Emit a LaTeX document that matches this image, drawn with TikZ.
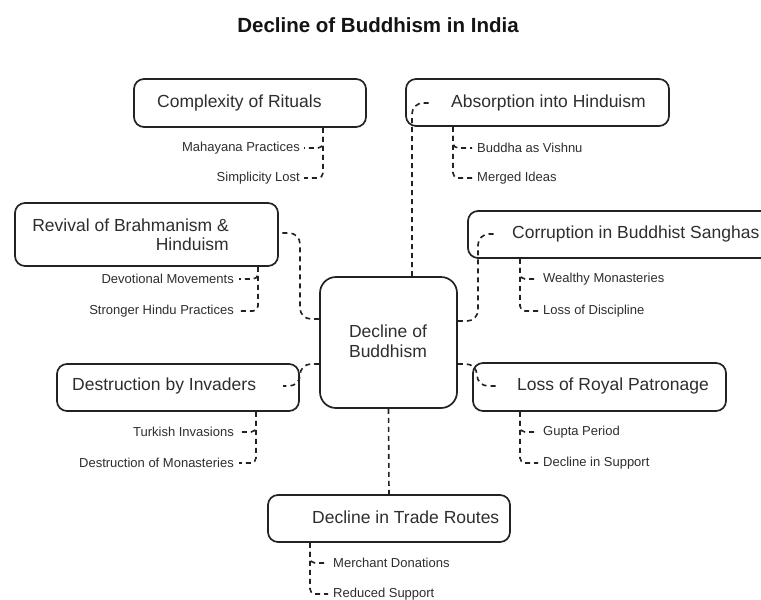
\documentclass[tikz,border=0pt]{standalone}
\usepackage{fontspec}
\setmainfont{Liberation Sans}
\usetikzlibrary{calc}
\definecolor{ink}{HTML}{222222}
\definecolor{txt}{HTML}{2E2E2E}
\tikzset{
  box/.style={draw=ink, line width=1.7pt, rounded corners=10pt, fill=white, inner sep=0pt},
  cbox/.style={draw=ink, line width=1.7pt, rounded corners=16pt, fill=white, inner sep=0pt},
  lbl/.style={text=txt, font=\fontsize{17.5}{21}\selectfont, inner sep=0pt},
  sub/.style={text=txt, font=\fontsize{13}{15}\selectfont, inner sep=0pt},
  conn/.style={draw=ink, line width=1.6pt, dash pattern=on 5pt off 4pt, rounded corners=11pt},
  subl/.style={draw=ink, line width=1.6pt, dash pattern=on 5pt off 4pt, rounded corners=5pt},
}
\begin{document}
\begin{tikzpicture}[x=1pt,y=-1pt]
\useasboundingbox (0,0) rectangle (761,600);
\clip (0,0) rectangle (761,600);
\fill[white] (0,0) rectangle (761,600);
% title
\node[font=\bfseries\fontsize{20.5}{24}\selectfont, text=black!92, inner sep=0pt] (title) at (378,25) {Decline of Buddhism in India};
% central box
\node[cbox, minimum width=137pt, minimum height=131pt] (cen) at (388.5,342.5) {};
\node[lbl, align=center, font=\fontsize{17.5}{20}\selectfont] (cent) at (388,341) {Decline of\\Buddhism};
% boxes
\node[box, minimum width=232pt, minimum height=48pt] (comp) at (250,103) {};
\node[lbl, anchor=west] (compt) at (157,103) {Complexity of Rituals};
\node[box, minimum width=263pt, minimum height=47pt] (abs) at (537.5,102.5) {};
\node[lbl, anchor=west] (abst) at (451,103) {Absorption into Hinduism};
\node[box, minimum width=263pt, minimum height=63pt] (rev) at (146.5,234.5) {};
\node[lbl, anchor=east, align=right, font=\fontsize{17.5}{19}\selectfont] (revt) at (229,235) {Revival of Brahmanism \&\\Hinduism};
\node[box, minimum width=310pt, minimum height=47pt] (corr) at (623,234.5) {};
\node[lbl, anchor=west] (corrt) at (512,234) {Corruption in Buddhist Sanghas};
\node[box, minimum width=242pt, minimum height=47pt] (dest) at (178,387.5) {};
\node[lbl, anchor=west] (destt) at (72,386) {Destruction by Invaders};
\node[box, minimum width=253pt, minimum height=48pt] (loss) at (599.5,387) {};
\node[lbl, anchor=west] (losst) at (517,386) {Loss of Royal Patronage};
\node[box, minimum width=242pt, minimum height=47pt] (trade) at (389,518.5) {};
\node[lbl, anchor=west] (tradet) at (312,517) {Decline in Trade Routes};
% main connectors
\coordinate (absin) at (430,103);
\coordinate (corrin) at (497,234);
\coordinate (lossin) at (497,386);
\coordinate (destin) at (283,386);
\draw[conn] (cen.north -| 412,0) -- (412,103) -- (absin);
\draw[conn] (cen.west |- 0,319) -- (300,319) -- (300,233) -- (rev.east |- 0,233);
\draw[conn] (cen.west |- 0,364) -- (300,364) -- (300,386) -- (destin);
\draw[conn] (cen.east |- 0,321) -- (478,321) -- (478,234) -- (corrin);
\draw[conn] (cen.east |- 0,364) -- (477,364) -- (477,386) -- (lossin);
\draw[conn] (cen.south) -- (trade.north);
% sub items: complexity
\node[sub, anchor=east] (c1) at (300,148) {Mahayana Practices};
\node[sub, anchor=east] (c2) at (300,178) {Simplicity Lost};
\draw[subl] (comp.south -| 323,0) -- (323,148) -- ([xshift=4pt]c1.east);
\draw[subl] (comp.south -| 323,0) -- (323,178) -- ([xshift=4pt]c2.east);
% absorption
\node[sub, anchor=west] (a1) at (477,148) {Buddha as Vishnu};
\node[sub, anchor=west] (a2) at (477,178) {Merged Ideas};
\draw[subl] (abs.south -| 453,0) -- (453,148) -- ([xshift=-5pt]a1.west);
\draw[subl] (abs.south -| 453,0) -- (453,178) -- ([xshift=-5pt]a2.west);
% revival
\node[sub, anchor=east] (r1) at (234,279) {Devotional Movements};
\node[sub, anchor=east] (r2) at (234,311) {Stronger Hindu Practices};
\draw[subl] (rev.south -| 258,0) -- (258,279) -- ([xshift=5pt]r1.east);
\draw[subl] (rev.south -| 258,0) -- (258,311) -- ([xshift=5pt]r2.east);
% corruption
\node[sub, anchor=west] (k1) at (543,279) {Wealthy Monasteries};
\node[sub, anchor=west] (k2) at (543,311) {Loss of Discipline};
\draw[subl] (corr.south -| 520,0) -- (520,279) -- ([xshift=-5pt]k1.west);
\draw[subl] (corr.south -| 520,0) -- (520,311) -- ([xshift=-5pt]k2.west);
% destruction
\node[sub, anchor=east] (d1) at (234,432) {Turkish Invasions};
\node[sub, anchor=east] (d2) at (234,463) {Destruction of Monasteries};
\draw[subl] (dest.south -| 256,0) -- (256,432) -- ([xshift=5pt]d1.east);
\draw[subl] (dest.south -| 256,0) -- (256,463) -- ([xshift=5pt]d2.east);
% loss
\node[sub, anchor=west] (l1) at (543,432) {Gupta Period};
\node[sub, anchor=west] (l2) at (543,463) {Decline in Support};
\draw[subl] (loss.south -| 520,0) -- (520,432) -- ([xshift=-5pt]l1.west);
\draw[subl] (loss.south -| 520,0) -- (520,463) -- ([xshift=-5pt]l2.west);
% trade
\node[sub, anchor=west] (t1) at (333,563) {Merchant Donations};
\node[sub, anchor=west] (t2) at (333,594) {Reduced Support};
\draw[subl] (trade.south -| 310,0) -- (310,563) -- ([xshift=-5pt]t1.west);
\draw[subl] (trade.south -| 310,0) -- (310,594) -- ([xshift=-5pt]t2.west);
\end{tikzpicture}
\end{document}
